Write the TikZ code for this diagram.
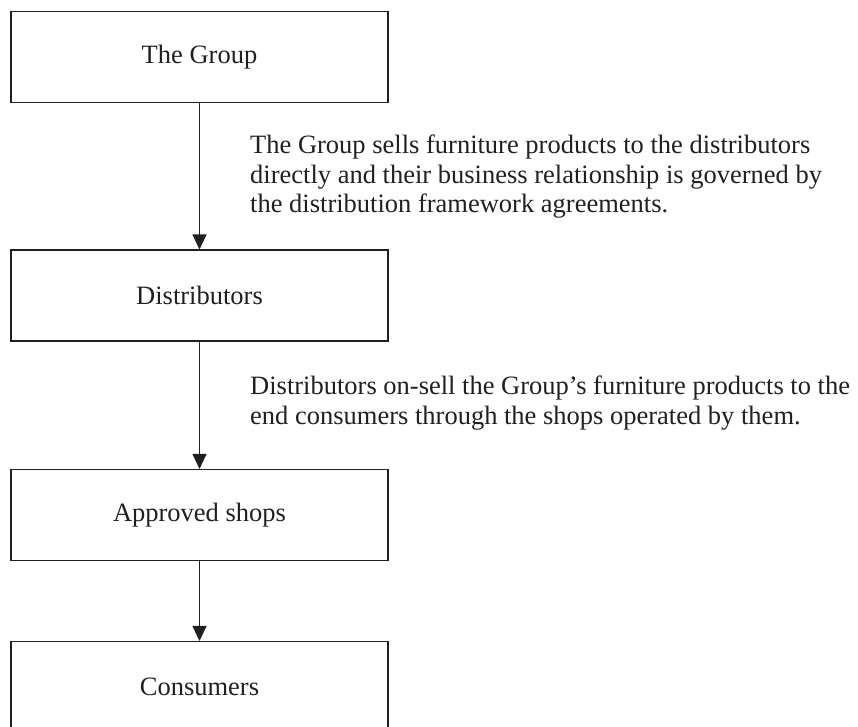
\documentclass[tikz,border=0pt]{standalone}
\usepackage{fontspec}
\setmainfont{Liberation Serif}
\usetikzlibrary{arrows.meta}
\definecolor{ink}{RGB}{35,31,32}
\tikzset{
    box/.style={draw=ink, line width=1.1pt, minimum width=377pt, minimum height=91pt, inner sep=0pt, text=ink},
    note/.style={anchor=base west, align=left, inner sep=0pt, text=ink},
    link/.style={->, draw=ink, line width=1.1pt}
}

\begin{document}
\begin{tikzpicture}[x=1pt, y=-1pt, >={Triangle[length=15pt, width=14pt]}, font={\fontsize{26.5}{29.5}\selectfont}]
    % Page frame
    \useasboundingbox (0,0) rectangle (858,727);
    \clip (0,0) rectangle (858,727);

    % Nodes for the sales chain
    \node[box] (group) at (199.5, 57) {The Group};
    \node[box] (dist) at (199.5, 295.5) {Distributors};
    \node[box] (shops) at (199.5, 515) {Approved shops};
    \node[box] (cons) at (199.5, 687) {Consumers}; % bottom runs off the page

    % Arrows down the chain
    \draw[link] (group) -- (dist);
    \draw[link] (dist) -- (shops);
    \draw[link] (shops) -- (cons);

    % Notes beside the arrows (placed by their last line)
    \node[note] (sell) at (250, 213) {The Group sells furniture products to the distributors\\
        directly and their business relationship is governed by\\
        the distribution framework agreements.};
    \node[note] (onsell) at (250, 424) {Distributors on-sell the Group’s furniture products to the\\
        end consumers through the shops operated by them.};
\end{tikzpicture}
\end{document}
